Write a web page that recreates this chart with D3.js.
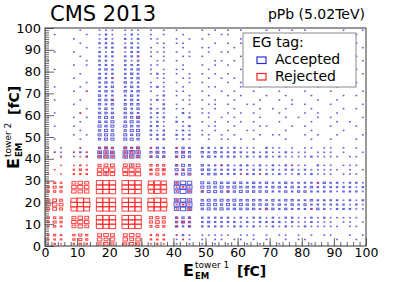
<!DOCTYPE html>
<html>
<head>
<meta charset="utf-8">
<script src="https://cdn.jsdelivr.net/npm/d3@7"></script>
<style>
  body { margin: 0; background: #fff; }
  text { font-family: "DejaVu Sans", sans-serif; }
</style>
</head>
<body>
<svg id="chart" width="407" height="282"></svg>
<script>
// 2 fC bins, 0..100 on both axes; each string is one row of 50 bins,
// written from the top row (E2 = 99) down to the bottom row (E2 = 1).
// '.' = empty, 1..9 = box size level. Spaces are only for reading.
const binWidth = 2;
const xTicks = [0, 10, 20, 30, 40, 50, 60, 70, 80, 90, 100];
const yTicks = [0, 10, 20, 30, 40, 50, 60, 70, 80, 90, 100];

const accepted = [
  ".... .1.. 111. 111. 1.1. 1... 1.1. 1.1. ..1. 1.1. 1... ..1. .1",
  ".1.. ..1. 121. 121. 1.1. .1.. .1.1 1... .1.. .... .1.. 1... 1.",
  ".... 1... 121. 212. 11.. 1.1. 1... ..1. 1... 1.1. ..1. .1.. ..",
  "1... .1.. 222. 121. .11. 11.. ..1. 1.1. .1.. .... 1... .... 1.",
  ".... ..1. 122. 222. 1.1. .1.. 11.. .1.. ..1. .1.. .1.. ..1. .1",
  ".1.. 1... 212. 122. 111. 1.1. .1.1 1... 1... 1... ...1 1... ..",
  ".... .1.. 222. 222. 1.1. .11. 1... ..1. .1.. ..1. 1... .1.. 1.",
  "1... ..1. 221. 212. .11. 1... ..11 .1.. 1... .1.. ..1. .... .1",
  ".... 1.1. 222. 222. 11.. .1.. 1.1. 1... ..1. 1... .1.. 1.1. ..",
  ".1.. .... 232. 223. 1.1. 11.. .1.. ..1. .1.. ..1. 1... .... 1.",
  ".... .1.. 222. 232. 121. 1.1. 1.1. 1... 1... .1.. ..1. .1.. .1",
  "1... 1... 322. 223. .11. .11. .1.1 .1.. ..1. 1... .1.. 1... ..",
  ".... ..1. 232. 322. 1.1. 1.1. 1... 1.1. 1... ..1. 1... ..1. 1.",
  ".1.. .1.. 223. 232. 121. .1.. .11. ..1. .1.. .1.. ..1. .1.. ..",
  ".... 1.1. 232. 323. 1.1. 11.. 1..1 .1.. 1... 1... 1... 1... .1",
  "1... .... 322. 232. .12. 1.1. .1.. 1.1. ..1. .1.. .1.. ..1. 1.",
  ".1.. .1.. 333. 232. 121. .11. 1.1. .1.. .1.. 1.1. ..1. .1.. ..",
  ".... 1... 323. 333. 1.2. 1.1. .11. 1..1 1... ..1. 1... 1... .1",
  ".... ..1. 232. 323. 212. 11.. 1.1. .1.. .1.1 .1.. .1.. ..1. 1.",
  ".1.. .1.. 333. 332. 121. .21. 11.. 1.1. 1... 1... 1.1. .1.. ..",
  "1... 1.1. 343. 334. 212. 1.2. .1.1 .1.. .1.. .1.1 ..1. 1... .1",
  ".... .1.. 334. 343. 121. 21.. 1.1. 1.1. 1... 1... .1.. .1.1 ..",
  ".1.. 1... 434. 433. 221. .12. .11. .1.. .11. ..1. 1... 1... 1.",
  ".... .1.. 343. 344. 212. 121. 1.1. 1..1 1... .1.. .1.. ..1. ..",
  "1... 1.1. 444. 434. 222. 212. 11.1 .1.. .1.1 1... 1.1. .1.. .1",
  ".1.. .1.. 344. 443. 122. 121. .1.1 1.1. 1... .1.. .1.. 1... 1.",
  ".... .... .... .... .... .... .... .... .... .... .... .... ..",
  "1.1. .1.. 343. 434. 232. 232. 2212 1211 1.21 1.1. 11.1 1.1. 1.",
  ".11. 121. 565. 676. 343. 343. 3232 2221 2121 1211 1.11 1.1. .1",
  "1.1. 1.2. 566. 665. 333. 343. 2322 2212 1221 2111 1211 11.1 1.",
  ".... .... .... .... .... .... .... .... .... .... .... .... ..",
  ".... .... .... .1.. .... 343. 3222 2122 1212 1211 1.21 1.11 1.",
  ".... .... .... .... 1.1. 434. 3322 2221 2212 1221 2111 11.1 .1",
  ".... .... .1.. .... .... 344. 2332 2212 2121 2112 1211 1.11 1.",
  ".... .... .... .... .... .... .... .... .... .... .... .... ..",
  ".... .... .... .... .... 676. 4343 3332 3232 2322 2223 2212 21",
  ".... .... .... .... .... 787. 4434 3433 3323 3232 2322 2222 12",
  ".... .... .... .... .... 686. 3443 3343 3332 2323 3222 2122 21",
  ".... .... .... .... .... .... .... .... .... .... .... .... ..",
  ".... .... .... .... .... 676. 3434 3433 3323 2332 2322 2212 12",
  ".... .... .... .... .... 787. 4443 4343 3332 3232 3222 2221 21",
  ".... .... .... .... .... 676. 3434 3333 3233 2322 2232 1222 11",
  ".... .... .... .... .... .... .... .... .... .... .... .... ..",
  ".... .... .... .... .... 333. 2222 2121 2212 1221 1212 1111 1.",
  ".... .... .... .... .... 343. 2322 2212 1222 2121 1211 1.11 .1",
  ".... .... .... .... .... 323. 2222 1221 2112 1211 2111 11.1 1.",
  ".... .... .... .... .... .... .... .... .... .... .... .... ..",
  ".... .... .... .... .... 121. 1111 1.11 1.1. 11.1 .1.1 1..1 .1",
  ".... .... .... .... .... 111. 1.11 .11. 1.1. .1.1 1... .1.. 1.",
  ".... .... .... .... .... 1.1. 1.1. 1..1 .1.. 1... .1.. .... .."
];

const rejected = [
  ".... .... .... .... .... .... .... .... .... .... .... .... ..",
  ".... .... .... .... .... .... .... .... .... .... .... .... ..",
  ".... .... .... .... .... .... .... .... .... .... .... .... ..",
  ".... .... .... .... .... .... .... .... .... .... .... .... ..",
  ".... .... .... .... .... .... .... .... .... .... .... .... ..",
  ".... .... .... .... .... .... .... .... .... .... .... .... ..",
  ".... .... .... ..1. .... .... .... .... .... .... .... .... ..",
  ".... .... .... .... .... .... .... .... .... .... .... .... ..",
  ".... .... .... .... .... .... .... .... .... .... .... .... ..",
  ".... .... .... .... .... .... .... .... .... .... .... .... ..",
  ".... .... .... .... .... .... .... .... .... .... .... .... ..",
  ".... .... ..1. .... .... .... .... .... .... .... .... .... ..",
  ".... .... .... .... .... .... .... .... .... .... .... .... ..",
  ".... .... .... .... .... .... .... .... .... .... .... .... ..",
  ".... ..1. .... .... .... .... .... .... .... .... .... .... ..",
  ".... .... .... .... .... .... .... .... .... .... .... .... ..",
  ".... .... ..1. .... .... .... .... .... .... .... .... .... ..",
  ".... .... .... .... .... .... .... .... .... .... .... .... ..",
  ".... .... .... .... .... .... .... .... .... .... .... .... ..",
  ".... .1.. .... .... .... .... .... .... .... .... .... .... ..",
  ".... .... .... ..1. .... .... .... .... .... .... .... .... ..",
  ".... .... .... .... .... .... .... .... .... .... .... .... ..",
  ".... .... .... .... .... .... .... .... .... .... .... .... ..",
  ".... .... .... .... .... .... .... .... .... .... .... .... ..",
  ".... .... .... .... .... .... .... .... .... .... .... .... ..",
  ".... .... .... .... .... .... .... .... .... .... .... .... ..",
  ".... .... .... .... .... .... .... .... .... .... .... .... ..",
  "1... .1.. 121. 212. 1... 1... .... .... .... .... .... .... ..",
  ".1.. 1.1. 222. 232. .1.. .1.. .... .... .... .... .... .... ..",
  "1.1. .11. 232. 222. 1.1. 1... .... .... .... .... .... .... ..",
  ".... .... .... .... .... .... .... .... .... .... .... .... ..",
  "1.1. 121. 455. 565. 333. 1... ...1 .... .... ..1. .... .... ..",
  ".1.. 232. 677. 776. 344. .1.. .... .... .... .... .... .... ..",
  "1.1. 222. 666. 677. 343. 1.1. .... ..1. .1.. .... .... .... ..",
  ".... .... .... .... .... .... .... .... .... .... .... .... ..",
  "232. 565. 999. 999. 787. 2... .... .... .... .... ..1. .... ..",
  "343. 676. 999. 999. 888. 121. .... .... .... .... .... .... ..",
  "333. 666. 999. 999. 787. 1.2. 1... 1... .... .... .... .... ..",
  ".... .... .... .... .... .... .... .... .... .... .... .... ..",
  "454. 898. 999. 999. 898. 2.1. .... .... .... .... .... .... ..",
  "565. 989. 999. 999. 999. 121. .... .... .... .... .... .... ..",
  "454. 898. 999. 999. 888. 1.2. .... .... ..1. .... .1.. .... ..",
  ".... .... .... .... .... .... .... .... .... .... .... .... ..",
  "333. 565. 999. 999. 444. 1.1. .... .... .... .... .... .... ..",
  "343. 676. 999. 999. 454. 121. .... .... .... .... .... .... ..",
  "232. 565. 989. 999. 343. 1.1. .... .... .... .... .... .... ..",
  ".... .... .... .... .... .... .... .... .... .... .... .... ..",
  "232. 343. 565. 565. 232. 1... .... .... .... .... .... .... ..",
  "222. 343. 656. 656. 222. .1.. .... .... .... .... .... .... ..",
  "121. 232. 454. 454. 121. .... .... .... .... .... .... .... .."
];

const legendItems = [
  { label: 'Accepted', color: '#2a2ad2' },
  { label: 'Rejected', color: '#f22' }
];

// box side as a fraction of the bin, per level
const boxFrac = [0, 0.12, 0.24, 0.36, 0.48, 0.6, 0.7, 0.8, 0.9, 1.0];

const svg = d3.select('#chart');

const x = d3.scaleLinear().domain([0, 100]).range([45, 366]);
const y = d3.scaleLinear().domain([0, 100]).range([246, 28]);

function toCells(rows) {
  const cells = [];
  rows.forEach((row, k) => {
    const chars = row.replace(/ /g, '');
    const lo = 100 - binWidth * (k + 1);
    chars.split('').forEach((c, i) => {
      if (c === '.') return;
      cells.push({ x0: i * binWidth, y0: lo, level: +c });
    });
  });
  return cells;
}

function drawBoxes(rows, color, opacity) {
  const bw = x(binWidth) - x(0);
  const bh = y(0) - y(binWidth);
  svg.append('g')
    .selectAll('rect')
    .data(toCells(rows))
    .enter().append('rect')
    .attr('x', d => x(d.x0 + binWidth / 2) - bw * boxFrac[d.level] / 2)
    .attr('y', d => y(d.y0 + binWidth / 2) - bh * boxFrac[d.level] / 2)
    .attr('width', d => bw * boxFrac[d.level])
    .attr('height', d => bh * boxFrac[d.level])
    .attr('fill', 'none')
    .attr('stroke', color)
    .attr('stroke-opacity', opacity)
    .attr('stroke-width', 1);
}

drawBoxes(accepted, legendItems[0].color, 0.75);
drawBoxes(rejected, legendItems[1].color, 0.85);

// axes, ticks pointing into the frame
const minorX = svg.append('g')
  .attr('transform', `translate(0,${y(0)})`)
  .call(d3.axisBottom(x).tickValues(d3.range(0, 101, 2)).tickSize(-4).tickFormat(''));
const majorX = svg.append('g')
  .attr('transform', `translate(0,${y(0)})`)
  .call(d3.axisBottom(x).tickValues(xTicks).tickSize(-8).tickPadding(2));
const minorY = svg.append('g')
  .attr('transform', `translate(${x(0)},0)`)
  .call(d3.axisLeft(y).tickValues(d3.range(0, 101, 1)).tickSize(-4).tickFormat(''));
const majorY = svg.append('g')
  .attr('transform', `translate(${x(0)},0)`)
  .call(d3.axisLeft(y).tickValues(yTicks).tickSize(-9).tickPadding(4));

[minorX, majorX, minorY, majorY].forEach(g => {
  g.select('.domain').remove();
  g.selectAll('line').attr('stroke', '#666');
  g.selectAll('text')
    .style('font-family', '"DejaVu Sans", sans-serif')
    .style('font-size', '13px')
    .attr('fill', '#000');
});
majorX.selectAll('text').style('font-size', '12.5px');

svg.append('rect')
  .attr('x', x(0)).attr('y', y(100))
  .attr('width', x(100) - x(0)).attr('height', y(0) - y(100))
  .attr('fill', 'none').attr('stroke', '#333').attr('stroke-width', 1);

// titles
svg.append('text').attr('x', 50).attr('y', 21)
  .style('font-size', '21px').text('CMS 2013');
svg.append('text').attr('x', 365).attr('y', 19)
  .attr('text-anchor', 'end').style('font-size', '14px').text('pPb (5.02TeV)');

function axisTitle(g, tower) {
  g.append('text').attr('x', 0).attr('y', 0)
    .style('font-size', '16px').style('font-weight', 'bold').text('E');
  g.append('text').attr('x', 12).attr('y', -8)
    .style('font-size', '9px').text('tower ' + tower);
  g.append('text').attr('x', 12).attr('y', 3)
    .style('font-size', '8.5px').style('font-weight', 'bold').text('EM');
  g.append('text').attr('x', 54).attr('y', 0)
    .style('font-size', '14px').style('font-weight', 'bold').text('[fC]');
}
axisTitle(svg.append('g').attr('transform', 'translate(183,276)'), 1);
axisTitle(svg.append('g').attr('transform', 'translate(19,169) rotate(-90)'), 2);

// legend
const legend = svg.append('g');
legend.append('rect')
  .attr('x', 243).attr('y', 33).attr('width', 113).attr('height', 54)
  .attr('fill', '#fff').attr('stroke', '#888');
legend.append('text').attr('x', 252).attr('y', 47)
  .style('font-size', '14px').text('EG tag:');
legendItems.forEach((item, i) => {
  legend.append('rect')
    .attr('x', 257).attr('y', 57 + i * 16.5).attr('width', 9).attr('height', 6.5)
    .attr('fill', 'none').attr('stroke', item.color).attr('stroke-width', 1.2);
  legend.append('text').attr('x', 275).attr('y', 64 + i * 16.5)
    .style('font-size', '14px').text(item.label);
});
</script>
</body>
</html>
